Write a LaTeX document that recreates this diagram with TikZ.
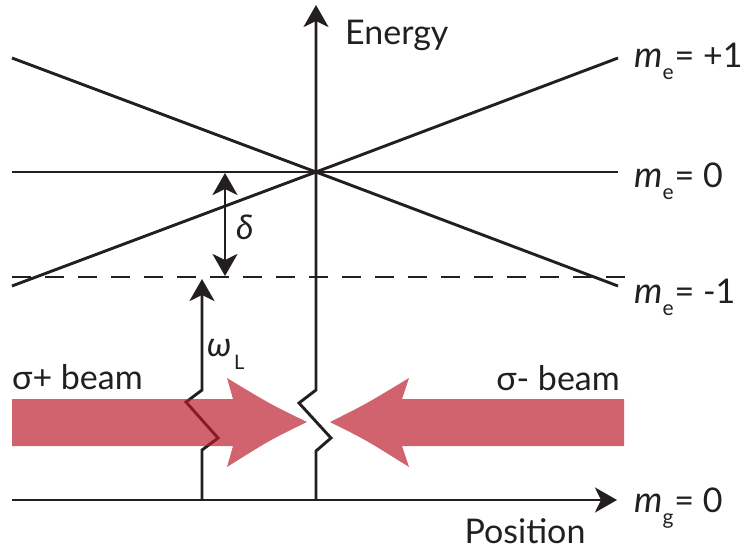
\documentclass[tikz,border=0pt]{standalone}
\usepackage{fontspec}
\setmainfont{Lato}
\usetikzlibrary{arrows.meta}
\definecolor{ink}{HTML}{231F20}
\definecolor{beamred}{RGB}{185,25,40}
\newcommand{\mlabel}[2]{{\fontsize{36}{36}\selectfont\textit{m}}\raisebox{-12pt}{\fontsize{21}{21}\selectfont #1}\kern1pt= #2}
\begin{document}
\begin{tikzpicture}[x=1pt,y=-1pt,
  line/.style={draw=ink,line width=2.9pt},
  tip/.style={-{Stealth[length=22pt,width=25pt,inset=6pt]}},
  lbl/.style={inner sep=0pt,text=ink,font=\fontsize{34}{34}\selectfont},
  beam/.style={fill=beamred,fill opacity=0.68,draw=none}]
\useasboundingbox (0,0) rectangle (744,552);
% coordinates
\coordinate (origin) at (316,500);
\coordinate (eTop) at (316,5);
\coordinate (posEnd) at (617,500);
\coordinate (posStart) at (12,500);
\coordinate (cross) at (316,172);
\coordinate (a1) at (12,58);  \coordinate (a2) at (618,286);
\coordinate (b1) at (12,286); \coordinate (b2) at (618,58);
\coordinate (z1) at (12,172); \coordinate (z2) at (618,172);
\coordinate (d1) at (12,277); \coordinate (d2) at (626,277);
\coordinate (dTop) at (225,173); \coordinate (dBot) at (225,276);
\coordinate (wBot) at (202,500); \coordinate (wTop) at (202,279);
% levels
\draw[line] (a1) -- (cross) -- (a2);
\draw[line] (b1) -- (cross) -- (b2);
\draw[line] (z1) -- (z2);
\draw[draw=ink,line width=2.9pt,dash pattern=on 19pt off 14pt] (d1) -- (d2);
% delta arrow
\draw[line,{Stealth[length=22pt,width=25pt,inset=6pt]}-{Stealth[length=22pt,width=25pt,inset=6pt]}] (dTop) -- (dBot);
% omega_L arrow with break
\draw[line,tip,line join=miter] (wBot) -- (202,450) -- (218,438) -- (186,402) -- (202,390) -- (wTop);
% energy axis with break
\draw[line,tip,line join=miter] (origin) -- (316,451) -- (331,438) -- (299,403) -- (316,390) -- (eTop);
% position axis
\draw[line,tip] (posStart) -- (posEnd);
% beams
\path[beam] (12,399) -- (233,399) -- (227,378) .. controls (270,404) .. (307,422)
  .. controls (270,440) .. (227,467) -- (233,446) -- (12,446) -- cycle;
\path[beam] (624,399) -- (402,399) -- (409,378) .. controls (366,404) .. (330,422)
  .. controls (366,440) .. (409,467) -- (402,446) -- (624,446) -- cycle;
% labels
\node[lbl,anchor=base west] (energy) at (345,44) {Energy};
\node[lbl,anchor=base] (position) at (525,543) {Position};
\node[lbl,anchor=base west] (mp1) at (634,67) {\mlabel{e}{+1}};
\node[lbl,anchor=base west] (m0) at (634,187) {\mlabel{e}{0}};
\node[lbl,anchor=base west] (mm1) at (634,303) {\mlabel{e}{-1}};
\node[lbl,anchor=base west] (mg) at (634,512) {\mlabel{g}{0}};
\node[lbl,anchor=base west] (delta) at (236,239) {\textit{δ}};
\node[lbl,anchor=base west] (omega) at (207,356) {\textit{ω}};
\node[inner sep=0pt,text=ink,font=\fontsize{20}{20}\selectfont,anchor=base west] (omegaL) at (234,369) {L};
\node[lbl,anchor=base west] (sp) at (12,389) {σ+ beam};
\node[lbl,anchor=base east] (sm) at (620,390) {σ- beam};
\end{tikzpicture}
\end{document}
